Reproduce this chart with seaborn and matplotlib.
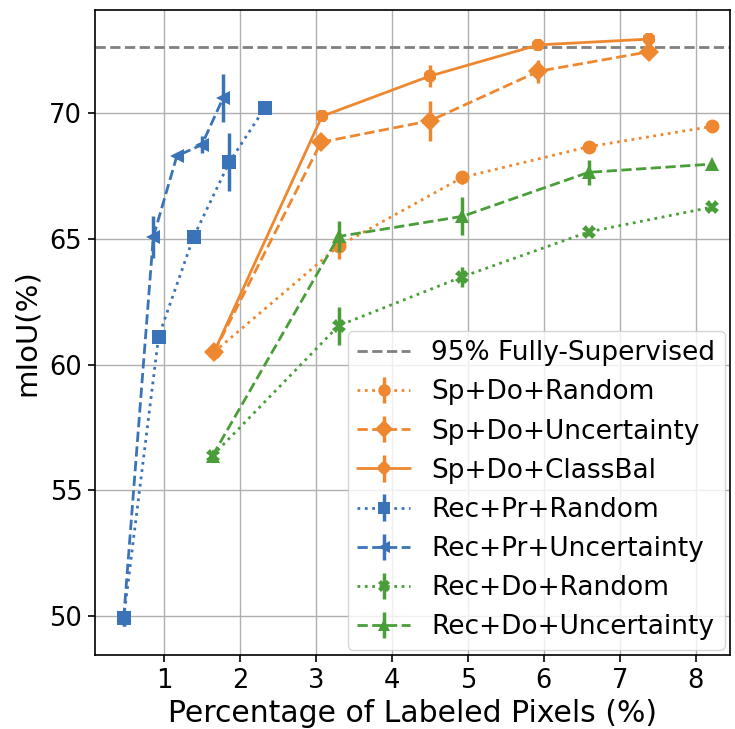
import numpy as np
import pandas as pd
import matplotlib
matplotlib.use("Agg")
import matplotlib.pyplot as plt
import seaborn as sns
from matplotlib.legend_handler import HandlerTuple
from matplotlib.lines import Line2D

# ---- data ----
full_sup = 72.65

series_names = ["Sp+Do+Random", "Sp+Do+Uncertainty", "Sp+Do+ClassBal",
                "Rec+Pr+Random", "Rec+Pr+Uncertainty",
                "Rec+Do+Random", "Rec+Do+Uncertainty"]

sp_do_random_x = [1.66, 3.30, 4.93, 6.59, 8.22]
sp_do_random_y = [60.5, 64.72, 67.45, 68.67, 69.48]
sp_do_random_e = [0.0, 0.5, 0.25, 0.15, 0.1]

sp_do_unc_x = [1.66, 3.07, 4.50, 5.93, 7.39]
sp_do_unc_y = [60.5, 68.85, 69.7, 71.67, 72.45]
sp_do_unc_e = [0.1, 0.2, 0.8, 0.45, 0.15]

sp_do_cb_x = [1.66, 3.08, 4.50, 5.93, 7.38]
sp_do_cb_y = [60.5, 69.88, 71.48, 72.72, 72.95]
sp_do_cb_e = [0.1, 0.1, 0.45, 0.1, 0.2]

rec_pr_random_x = [0.47, 0.93, 1.39, 1.86, 2.33]
rec_pr_random_y = [49.92, 61.12, 65.08, 68.05, 70.22]
rec_pr_random_e = [0.3, 0.2, 0.25, 1.15, 0.1]

rec_pr_unc_x = [0.47, 0.86, 1.17, 1.50, 1.78]
rec_pr_unc_y = [49.92, 65.08, 68.3, 68.75, 70.62]
rec_pr_unc_e = [0.3, 0.85, 0.1, 0.35, 0.95]

rec_do_random_x = [1.64, 3.30, 4.93, 6.59, 8.22]
rec_do_random_y = [56.38, 61.55, 63.5, 65.28, 66.27]
rec_do_random_e = [0.15, 0.75, 0.4, 0.15, 0.15]

rec_do_unc_x = [1.64, 3.30, 4.93, 6.59, 8.22]
rec_do_unc_y = [56.38, 65.1, 65.9, 67.65, 67.98]
rec_do_unc_e = [0.15, 0.6, 0.75, 0.5, 0.1]

xs = [sp_do_random_x, sp_do_unc_x, sp_do_cb_x, rec_pr_random_x, rec_pr_unc_x,
      rec_do_random_x, rec_do_unc_x]
ys = [sp_do_random_y, sp_do_unc_y, sp_do_cb_y, rec_pr_random_y, rec_pr_unc_y,
      rec_do_random_y, rec_do_unc_y]
es = [sp_do_random_e, sp_do_unc_e, sp_do_cb_e, rec_pr_random_e, rec_pr_unc_e,
      rec_do_random_e, rec_do_unc_e]

x_ticks = [1, 2, 3, 4, 5, 6, 7, 8]
y_ticks = [50, 55, 60, 65, 70]

# ---- styles ----
ORANGE = "#EE8830"
BLUE = "#3A73B8"
GREEN = "#4A9E3A"
palette = {"Sp+Do+Random": ORANGE, "Sp+Do+Uncertainty": ORANGE, "Sp+Do+ClassBal": ORANGE,
           "Rec+Pr+Random": BLUE, "Rec+Pr+Uncertainty": BLUE,
           "Rec+Do+Random": GREEN, "Rec+Do+Uncertainty": GREEN}
DOT = (1, 1.65)
DASH = (3.7, 1.6)
dashes = {"Sp+Do+Random": DOT, "Sp+Do+Uncertainty": DASH, "Sp+Do+ClassBal": "",
          "Rec+Pr+Random": DOT, "Rec+Pr+Uncertainty": DASH,
          "Rec+Do+Random": DOT, "Rec+Do+Uncertainty": DASH}
markers = {"Sp+Do+Random": "o", "Sp+Do+Uncertainty": "D", "Sp+Do+ClassBal": "8",
           "Rec+Pr+Random": "s", "Rec+Pr+Uncertainty": "<",
           "Rec+Do+Random": "X", "Rec+Do+Uncertainty": "^"}

rows = []
for name, x, y in zip(series_names, xs, ys):
    for xi, yi in zip(x, y):
        rows.append({"series": name, "x": xi, "y": yi})
df = pd.DataFrame(rows)

sns.set_theme(style="whitegrid")
plt.rcParams["font.family"] = ["DejaVu Sans"]
plt.rcParams["text.color"] = "black"
plt.rcParams["axes.labelcolor"] = "black"
plt.rcParams["xtick.color"] = "black"
plt.rcParams["ytick.color"] = "black"

fig = plt.figure(figsize=(7.35, 7.29), dpi=100)
ax = fig.add_axes([0.129, 0.1015, 0.864, 0.8845])

ax.axhline(full_sup, color="#808080", ls="--", lw=2, dashes=(3.7, 1.6), zorder=1)

sns.lineplot(data=df, x="x", y="y", hue="series", style="series",
             palette=palette, dashes=dashes, markers=markers,
             hue_order=series_names, style_order=series_names,
             markersize=10, markeredgewidth=0, linewidth=2,
             errorbar=None, legend=False, ax=ax, sort=False)

err_containers = []
for name, x, y, e in zip(series_names, xs, ys, es):
    c = ax.errorbar(x, y, yerr=e, fmt="none", ecolor=palette[name], elinewidth=2.5,
                    capsize=0, zorder=3)
    err_containers.append(c)

handles = [Line2D([], [], color="#808080", ls="--", lw=2, dashes=(3.7, 1.6))]
labels = ["95% Fully-Supervised"]
for name, ec in zip(series_names, err_containers):
    ln = Line2D([], [], color=palette[name], lw=2, marker=markers[name],
                markersize=9, markeredgewidth=0)
    if dashes[name] == "":
        ln.set_linestyle("-")
    else:
        ln.set_dashes(dashes[name])
    handles.append((ln, ec))
    labels.append(name)

leg = ax.legend(handles, labels, loc="lower right", fontsize=19,
                handler_map={tuple: HandlerTuple(ndivide=1, pad=0)},
                frameon=True, fancybox=True, framealpha=0.8,
                borderpad=0.35, labelspacing=0.5, handlelength=2.0,
                handletextpad=0.8, borderaxespad=0.2)
leg.get_frame().set_edgecolor("#cccccc")

ax.set_xlim(0.09, 8.45)
ax.set_ylim(48.45, 74.1)
ax.set_xticks(x_ticks)
ax.set_yticks(y_ticks)
ax.set_xticklabels([str(t) for t in x_ticks])
ax.set_yticklabels([str(t) for t in y_ticks])
ax.tick_params(axis="both", labelsize=18.5, length=5, width=1.2, color="black",
               direction="out", bottom=True, left=True, pad=4)
ax.set_xlabel("Percentage of Labeled Pixels (%)", fontsize=21.5, color="black", labelpad=4)
ax.set_ylabel("mIoU(%)", fontsize=21, color="black", labelpad=6)
ax.grid(True, color="#b0b0b0", lw=1)
for s in ax.spines.values():
    s.set_color("black")
    s.set_linewidth(1.2)
ax.set_facecolor("white")

fig.savefig("out.png", dpi=100)
